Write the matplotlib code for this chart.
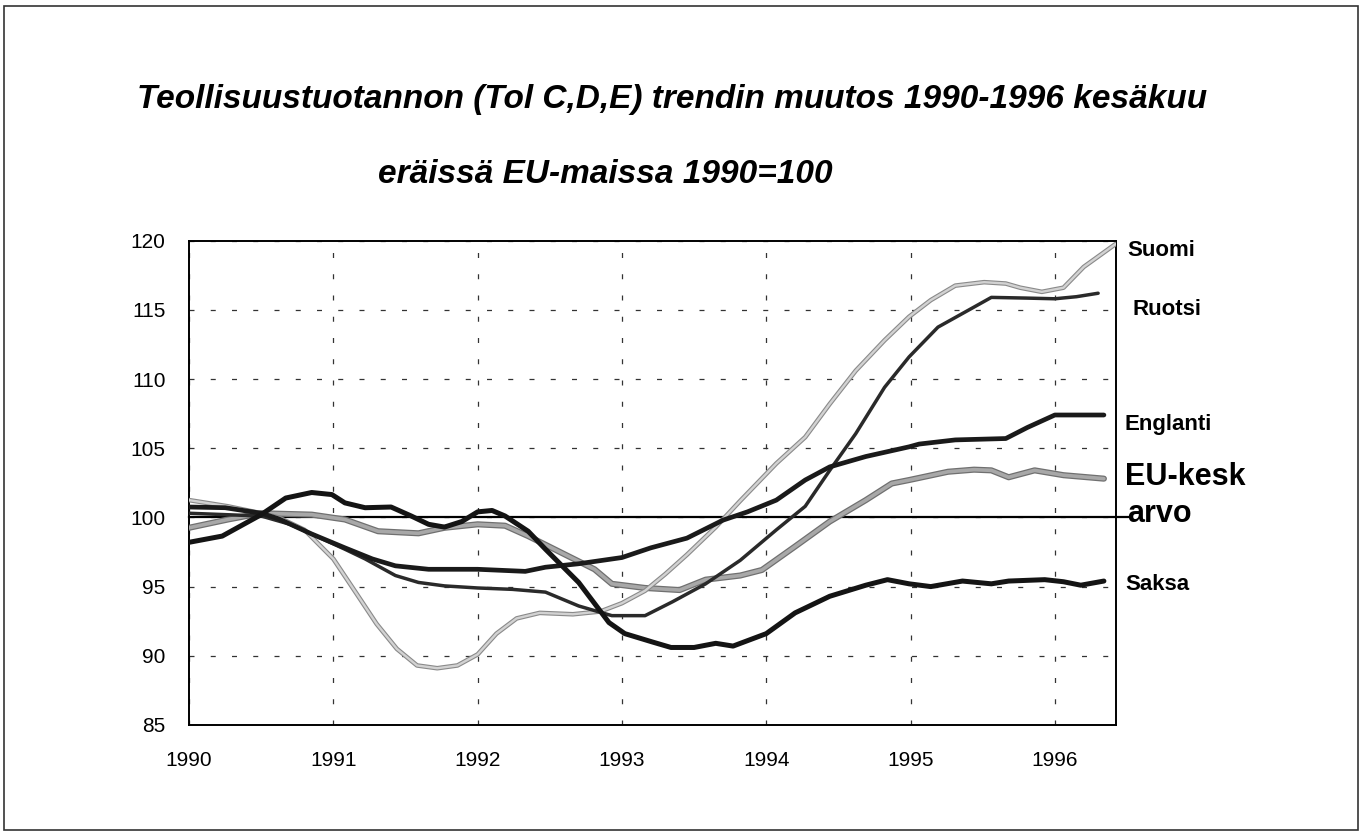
import matplotlib
matplotlib.use("Agg")
import matplotlib.pyplot as plt
import matplotlib.patheffects as pe
from matplotlib.patches import Rectangle

FONT = ['Liberation Sans', 'DejaVu Sans']

title1 = "Teollisuustuotannon (Tol C,D,E) trendin muutos 1990-1996 kesäkuu"
title2 = "eräissä EU-maissa 1990=100"

years_ticks = [1990, 1991, 1992, 1993, 1994, 1995, 1996]
y_ticks = [85, 90, 95, 100, 105, 110, 115, 120]

# values (decimal year, index)
suomi_x = [1990.00, 1990.27, 1990.50, 1990.62, 1990.80, 1991.00, 1991.16, 1991.30,
           1991.44, 1991.58, 1991.72, 1991.86, 1992.00, 1992.13, 1992.27, 1992.43,
           1992.66, 1992.85, 1993.00, 1993.16, 1993.30, 1993.45, 1993.65, 1993.82,
           1994.07, 1994.27, 1994.44, 1994.62, 1994.82, 1994.99, 1995.14, 1995.31,
           1995.51, 1995.66, 1995.76, 1995.91, 1996.06, 1996.20, 1996.42]
suomi_y = [101.25, 100.8, 100.3, 100.0, 99.1, 97.0, 94.5, 92.3,
           90.5, 89.3, 89.1, 89.3, 90.1, 91.6, 92.7, 93.1,
           93.0, 93.2, 93.8, 94.7, 95.9, 97.3, 99.3, 101.2,
           103.9, 105.8, 108.2, 110.6, 112.8, 114.5, 115.7, 116.75,
           117.0, 116.9, 116.6, 116.3, 116.6, 118.1, 119.75]

ruotsi_x = [1990.00, 1990.25, 1990.50, 1990.70, 1990.85, 1991.08, 1991.22, 1991.43,
            1991.59, 1991.77, 1992.00, 1992.24, 1992.47, 1992.70, 1992.93, 1993.16,
            1993.35, 1993.58, 1993.82, 1994.07, 1994.27, 1994.44, 1994.62, 1994.82,
            1994.99, 1995.19, 1995.44, 1995.56, 1995.80, 1996.00, 1996.15, 1996.30]
ruotsi_y = [100.3, 100.2, 100.1, 99.5, 98.8, 97.7, 97.0, 95.8,
            95.3, 95.05, 94.9, 94.8, 94.6, 93.6, 92.9, 92.9,
            93.9, 95.2, 96.9, 99.1, 100.8, 103.4, 106.05, 109.4,
            111.6, 113.75, 115.2, 115.9, 115.85, 115.8, 115.95, 116.2]

englanti_x = [1990.00, 1990.25, 1990.50, 1990.62, 1990.85, 1991.08, 1991.27, 1991.43,
              1991.66, 1992.00, 1992.33, 1992.47, 1992.70, 1993.00, 1993.20, 1993.45,
              1993.70, 1993.87, 1994.07, 1994.27, 1994.44, 1994.69, 1994.99, 1995.06,
              1995.31, 1995.66, 1995.81, 1996.00, 1996.34]
englanti_y = [100.75, 100.7, 100.3, 99.9, 98.8, 97.8, 97.0, 96.5,
              96.25, 96.25, 96.1, 96.4, 96.65, 97.1, 97.8, 98.5,
              99.8, 100.4, 101.25, 102.7, 103.65, 104.4, 105.1, 105.3,
              105.6, 105.7, 106.5, 107.4, 107.4]

eu_x = [1990.00, 1990.27, 1990.50, 1990.85, 1991.08, 1991.31, 1991.59, 1991.77,
        1992.00, 1992.19, 1992.35, 1992.58, 1992.81, 1992.93, 1993.16, 1993.40,
        1993.58, 1993.82, 1993.97, 1994.20, 1994.44, 1994.69, 1994.87, 1994.99,
        1995.26, 1995.44, 1995.56, 1995.68, 1995.86, 1996.06, 1996.34]
eu_y = [99.25, 99.85, 100.3, 100.2, 99.85, 99.0, 98.85, 99.25,
        99.5, 99.4, 98.65, 97.45, 96.25, 95.2, 94.9, 94.75,
        95.5, 95.8, 96.2, 97.9, 99.7, 101.25, 102.45, 102.7,
        103.3, 103.45, 103.4, 102.9, 103.4, 103.05, 102.8]

saksa_x = [1990.00, 1990.23, 1990.50, 1990.67, 1990.85, 1990.99, 1991.08, 1991.22,
           1991.40, 1991.54, 1991.66, 1991.77, 1991.89, 1992.00, 1992.10, 1992.19,
           1992.35, 1992.47, 1992.70, 1992.91, 1993.02, 1993.21, 1993.34, 1993.50,
           1993.65, 1993.77, 1994.00, 1994.20, 1994.44, 1994.69, 1994.84, 1994.99,
           1995.14, 1995.36, 1995.56, 1995.68, 1995.93, 1996.06, 1996.18, 1996.34]
saksa_y = [98.2, 98.65, 100.2, 101.4, 101.8, 101.65, 101.05, 100.7,
           100.75, 100.1, 99.5, 99.3, 99.7, 100.4, 100.5, 100.1,
           99.0, 97.7, 95.3, 92.4, 91.6, 91.0, 90.6, 90.6,
           90.9, 90.7, 91.6, 93.1, 94.3, 95.1, 95.5, 95.2,
           95.0, 95.4, 95.2, 95.4, 95.5, 95.35, 95.1, 95.4]

fig = plt.figure(figsize=(13.65, 8.33), dpi=100)
ax = fig.add_axes([0.1385, 0.1297, 0.6791, 0.5814])

# outer frame
fig.patches.append(Rectangle((4 / 1365, 3 / 833), 1354 / 1365, 824 / 833,
                             transform=fig.transFigure, fill=False,
                             edgecolor='#333333', lw=1.2))

ax.set_xlim(1990, 1996.424)
ax.set_ylim(85, 120)
ax.set_xticks(years_ticks)
ax.set_yticks(y_ticks)
ax.set_xticklabels([str(v) for v in years_ticks], family=FONT, fontsize=15)
ax.set_yticklabels([str(v) for v in y_ticks], family=FONT, fontsize=15)
ax.tick_params(axis='both', length=0)
ax.tick_params(axis='x', pad=19)
ax.tick_params(axis='y', pad=17)
for s in ax.spines.values():
    s.set_linewidth(1.4)
    s.set_color('black')

ax.grid(True, color='#333333', lw=0.9, linestyle=(0, (4, 13)))
ax.set_axisbelow(True)

ax.axhline(100, xmin=0, xmax=1.014, color='black', lw=1.6, clip_on=False, zorder=3)

# grey series with a dotted/hatched look
ax.plot(eu_x, eu_y, color='#a8a8a8', lw=2.6, solid_capstyle='round', zorder=4,
        path_effects=[pe.Stroke(linewidth=4.4, foreground='#707070'), pe.Normal()])
ax.plot(suomi_x, suomi_y, color='#d2d2d2', lw=1.7, solid_capstyle='round', zorder=4,
        path_effects=[pe.Stroke(linewidth=3.3, foreground='#8a8a8a'), pe.Normal()])

ax.plot(ruotsi_x, ruotsi_y, color='#2a2a2a', lw=2.5, solid_capstyle='round', zorder=5)
ax.plot(englanti_x, englanti_y, color='#1a1a1a', lw=3.4, solid_capstyle='round', zorder=5)
ax.plot(saksa_x, saksa_y, color='#141414', lw=3.6, solid_capstyle='round', zorder=5)

# end labels
lab = dict(family=FONT, fontsize=16, fontweight='bold', va='center', ha='left',
           clip_on=False)
ax.text(1996.50, 119.28, "Suomi", **lab)
ax.text(1996.535, 115.0, "Ruotsi", **lab)
ax.text(1996.486, 106.71, "Englanti", **lab)
ax.text(1996.486, 95.18, "Saksa", **lab)
ax.text(1996.486, 102.89, "EU-kesk", family=FONT, fontsize=22, fontweight='bold',
        va='center', ha='left', clip_on=False)
ax.text(1996.50, 100.25, "arvo", family=FONT, fontsize=22, fontweight='bold',
        va='center', ha='left', clip_on=False)

fig.text(137 / 1365, 1 - 108 / 833, title1, family=FONT, fontsize=24,
         fontweight='bold', style='italic', ha='left', va='baseline')
fig.text(378 / 1365, 1 - 183 / 833, title2, family=FONT, fontsize=24,
         fontweight='bold', style='italic', ha='left', va='baseline')

fig.savefig("out.png", dpi=100)
